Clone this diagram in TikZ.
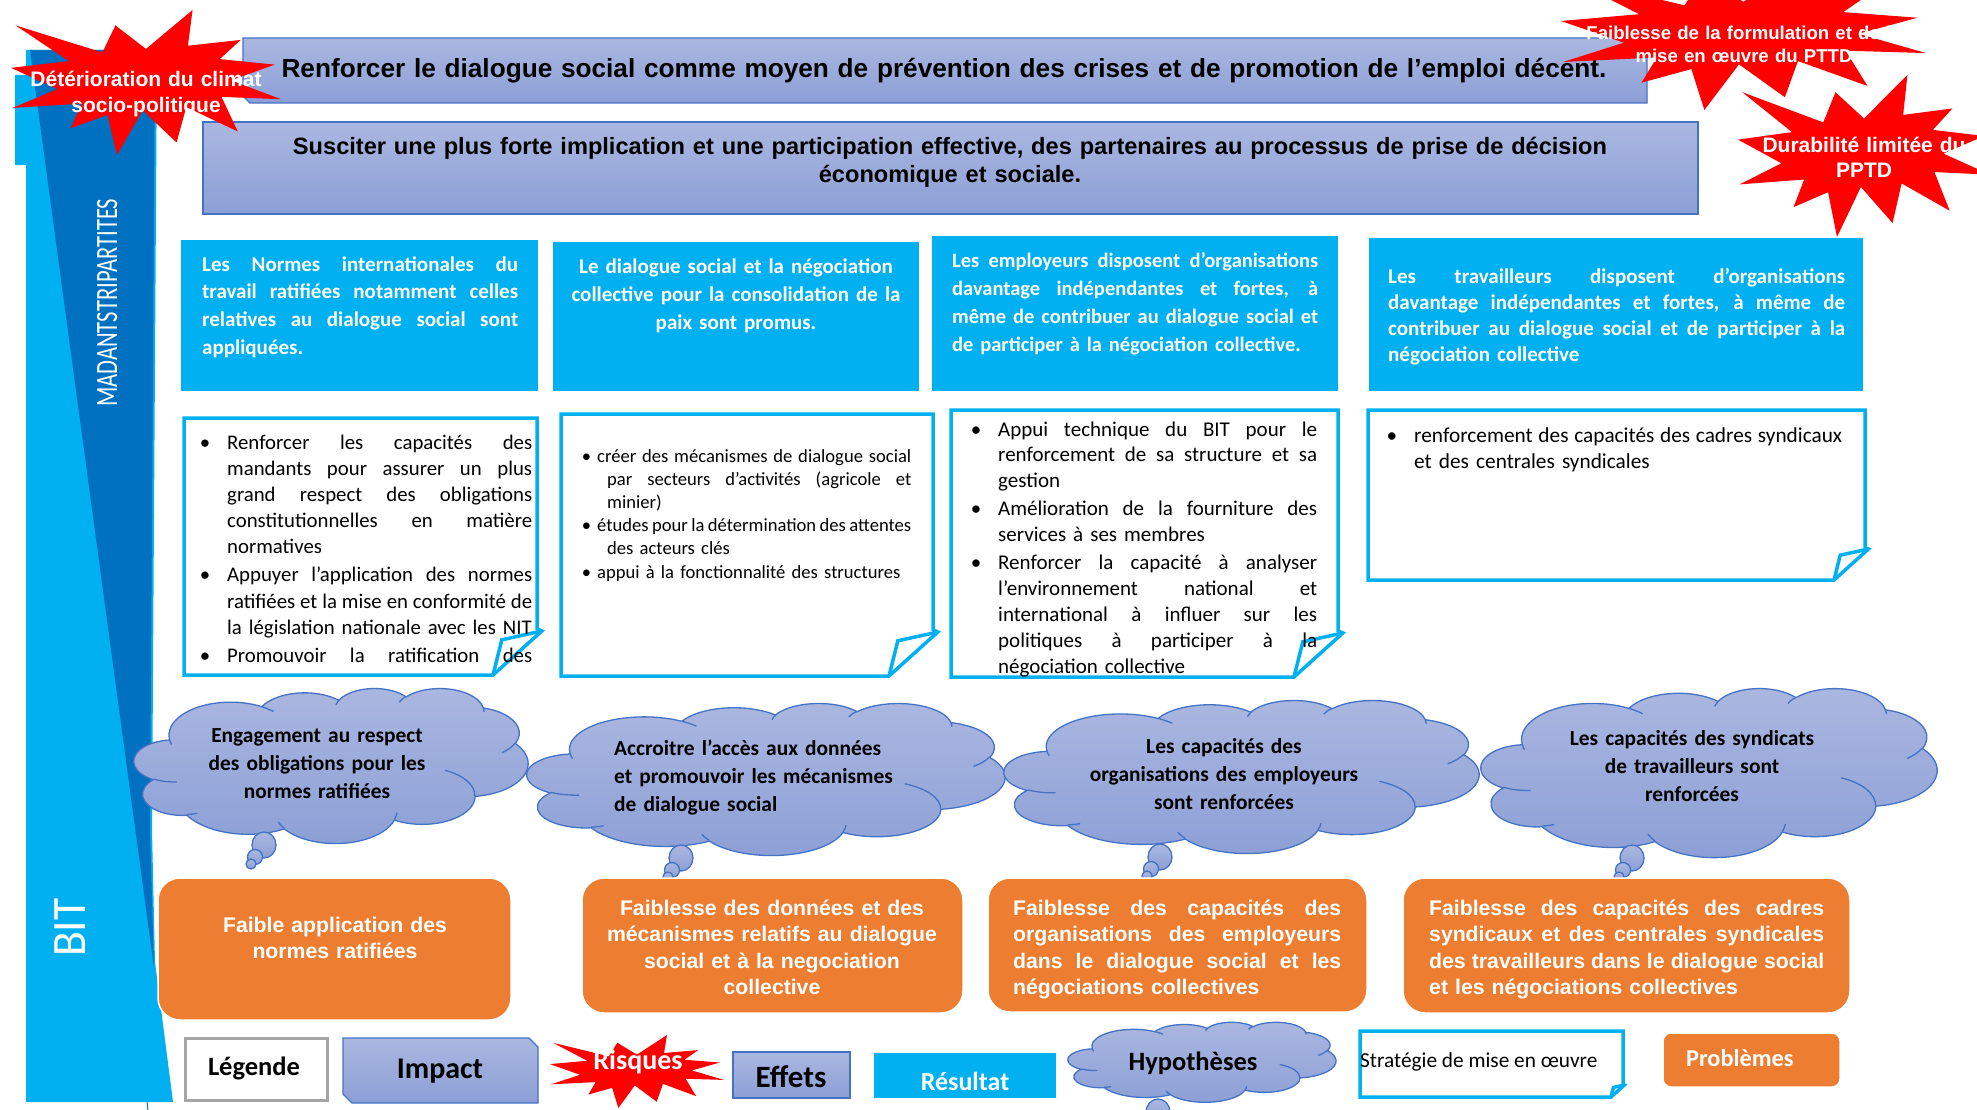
\documentclass[tikz,border=0pt]{standalone}
\usepackage{fontspec}
\setmainfont{Carlito}
\newfontfamily\arialf{Liberation Sans}

\definecolor{skyb}{RGB}{0,176,240}
\definecolor{deepb}{RGB}{0,112,192}
\definecolor{lavtop}{RGB}{170,183,224}
\definecolor{lavbot}{RGB}{140,159,214}
\definecolor{edgeb}{RGB}{68,114,196}
\definecolor{orng}{RGB}{237,125,49}
\definecolor{redx}{RGB}{255,0,0}
\definecolor{greyb}{RGB}{165,165,165}

\newlength\jw
\newcommand\fs[2]{\fontsize{#1}{#2}\selectfont}
% justified line of width \jw: the interword spaces share the slack equally
\newcommand\jl[1]{\leavevmode\hbox to\jw{%
  \spaceskip=\fontdimen2\font plus 1fil minus \fontdimen4\font
  \xspaceskip=\spaceskip\relax #1}}
\newcommand\bul{\leavevmode\llap{\textbullet\hspace{17pt}}}
\newcommand\bulb{\leavevmode\hspace*{-10pt}\llap{\textbullet\hspace{6pt}}}

% elliptic arc of the cloud outline: visual angles converted to parametric ones
\newcommand\oconv[5]{%
  \pgfmathsetmacro\oaT{atan2((#2)*sin(#4),(#3)*cos(#4))}%
  \pgfmathsetmacro\oaE{atan2((#2)*sin((#4)+(#5)),(#3)*cos((#4)+(#5)))}%
  \pgfmathsetmacro\oaD{\oaE-\oaT}%
  \pgfmathsetmacro\oaD{\oaD<0 ? \oaD+360 : \oaD}%
  \pgfmathsetmacro\oaX{(#2)/432}%
  \pgfmathsetmacro\oaY{(#3)/432}%
  \expandafter\xdef\csname oT#1\endcsname{\oaT}%
  \expandafter\xdef\csname oD#1\endcsname{\oaD}%
  \expandafter\xdef\csname oX#1\endcsname{\oaX}%
  \expandafter\xdef\csname oY#1\endcsname{\oaY}}
\oconv{a}{6753}{9190}{-190.4875}{123.7805}
\oconv{b}{5333}{7267}{-144.1024}{89.9452}
\oconv{c}{4365}{5945}{-145.8079}{99.7230}
\oconv{d}{4857}{6595}{-130.9861}{117.2417}
\oconv{e}{5333}{7273}{-78.7089}{109.0269}
\oconv{f}{6775}{9220}{-46.2673}{130.2690}
\oconv{g}{5785}{7867}{0.6250}{114.0333}
\oconv{h}{6752}{9215}{22.4516}{115.1726}
\oconv{i}{7720}{10543}{66.2426}{75.7110}
\oconv{j}{4360}{5918}{-274.9421}{146.7356}
\oconv{k}{4345}{5945}{-246.8285}{152.5189}
\oconv{ca}{4345}{5945}{86.7420}{26.4295}
\oconv{cb}{4360}{5918}{73.6105}{11.4475}
\oconv{cc}{6752}{9215}{137.6242}{14.0811}
\oconv{cd}{6752}{9215}{6.4533}{15.9984}
\oconv{ce}{5785}{7867}{-70.2924}{70.9174}
\oconv{cf}{5333}{7273}{30.3180}{27.7515}
\oconv{cg}{4857}{6595}{-13.7443}{14.8589}
\oconv{ch}{4857}{6595}{-149.1815}{18.1954}
\oconv{ci}{4365}{5945}{-163.4943}{17.6864}
\oconv{cj}{6753}{9190}{-66.7070}{12.3194}
\oconv{ck}{6753}{9190}{157.6544}{11.8582}

\newcommand\cloudline{(9.0278,33.2639)
  arc[start angle=\oTa,delta angle=\oDa,x radius=\oXa,y radius=\oYa]
  arc[start angle=\oTb,delta angle=\oDb,x radius=\oXb,y radius=\oYb]
  arc[start angle=\oTc,delta angle=\oDc,x radius=\oXc,y radius=\oYc]
  arc[start angle=\oTd,delta angle=\oDd,x radius=\oXd,y radius=\oYd]
  arc[start angle=\oTe,delta angle=\oDe,x radius=\oXe,y radius=\oYe]
  arc[start angle=\oTf,delta angle=\oDf,x radius=\oXf,y radius=\oYf]
  arc[start angle=\oTg,delta angle=\oDg,x radius=\oXg,y radius=\oYg]
  arc[start angle=\oTh,delta angle=\oDh,x radius=\oXh,y radius=\oYh]
  arc[start angle=\oTi,delta angle=\oDi,x radius=\oXi,y radius=\oYi]
  arc[start angle=\oTj,delta angle=\oDj,x radius=\oXj,y radius=\oYj]
  arc[start angle=\oTk,delta angle=\oDk,x radius=\oXk,y radius=\oYk]
  -- cycle}
\newcommand\cloudcreases{
  (10.8634,60.5949) arc[start angle=\oTca,delta angle=\oDca,x radius=\oXca,y radius=\oYca]
  (16.0370,80.7847) arc[start angle=\oTcb,delta angle=\oDcb,x radius=\oXcb,y radius=\oYcb]
  (38.1435,90.4861) arc[start angle=\oTcc,delta angle=\oDcc,x radius=\oXcc,y radius=\oYcc]
  (66.7292,80.4421) arc[start angle=\oTcd,delta angle=\oDcd,x radius=\oXcd,y radius=\oYcd]
  (79.0023,53.1343) arc[start angle=\oTce,delta angle=\oDce,x radius=\oXce,y radius=\oYce]
  (96.7546,35.5417) arc[start angle=\oTcf,delta angle=\oDcf,x radius=\oXcf,y radius=\oYcf]
  (88.7130,12.5602) arc[start angle=\oTcg,delta angle=\oDcg,x radius=\oXcg,y radius=\oYcg]
  (67.3102,9.1481) arc[start angle=\oTch,delta angle=\oDch,x radius=\oXch,y radius=\oYch]
  (51.2523,10.9259) arc[start angle=\oTci,delta angle=\oDci,x radius=\oXci,y radius=\oYci]
  (32.4074,12.0185) arc[start angle=\oTcj,delta angle=\oDcj,x radius=\oXcj,y radius=\oYcj]
  (9.5532,36.5486) arc[start angle=\oTck,delta angle=\oDck,x radius=\oXck,y radius=\oYck]}

% cloud body in the box x, y, width, height
\newcommand\thoughtcloud[4]{%
  \begin{scope}[shift={(#1,#2)},xscale=#3/100,yscale=#4/100]
    \path[lav] \cloudline;
    \draw[crease] \cloudcreases;
  \end{scope}}
% thought bubbles below a cloud
\newcommand\bubbles[2]{%
  \path[lav] (#1,#2) ellipse[x radius=12,y radius=13];
  \path[lav] (#1-9,#2+12) ellipse[x radius=7.5,y radius=7.5];
  \path[lav] (#1-13,#2+19) ellipse[x radius=5,y radius=5];}
% red explosion in the box x, y, width, height
\newcommand\boom[4]{%
  \begin{scope}[shift={(#1,#2)},xscale=#3/100,yscale=#4/100]
    \fill[redx] (50,26.85) -- (67.23,0) -- (65.53,24.65) -- (85.09,20.63) -- (77.32,33.87)
      -- (97.67,37.67) -- (81.51,48.50) -- (100,61.53) -- (77.95,59.92) -- (84.00,83.77)
      -- (64.91,66.93) -- (61.33,91.38) -- (48.76,69.14) -- (39.28,100) -- (35.72,72.35)
      -- (22.05,81.56) -- (26.24,64.52) -- (0.63,67.53) -- (17.23,54.51) -- (0,39.88)
      -- (21.42,35.26) -- (1.71,10.63) -- (33.85,29.26) -- (38.67,10.63) -- cycle;
  \end{scope}}
% note sheet with a folded lower right corner
\newcommand\foldnote[5]{%
  \path[notebox] (#1,#2) -- (#3,#2) -- (#3,#4-1.05*#5) -- (#3+0.11*#5,#4-#5)
    -- (#3-#5,#4) -- (#1,#4) -- cycle;
  \draw[notebox,fill=none] (#3+0.11*#5,#4-#5) -- (#3-0.8*#5,#4-0.8*#5) -- (#3-#5,#4);}

\begin{document}
\begin{tikzpicture}[x=1pt,y=-1pt,
  lav/.style={top color=lavtop,bottom color=lavbot,draw=edgeb,line width=1.3pt},
  crease/.style={draw=edgeb,line width=1.3pt},
  notebox/.style={fill=white,draw=skyb,line width=3.5pt,line join=miter},
  probbox/.style={fill=orng,draw=white,line width=1.5pt,rounded corners=22pt},
  tl/.style={inner sep=0pt,anchor=base west,align=left},
  tc/.style={inner sep=0pt,anchor=base,align=center},
  wt/.style={text=white}]

\useasboundingbox (0,0) rectangle (1977,1110);
\fill[white] (0,0) rectangle (1977,1110);
\clip (0,0) rectangle (1977,1110);

% side band
\fill[skyb] (15,75) rectangle (26,165);
\fill[skyb] (26,50) -- (157,50) -- (152,830) -- (155,962) -- (173,1102) -- (26,1102) -- cycle;
\fill[deepb] (30,50) -- (155,50) -- (150,830) -- (154,968) -- cycle;
\draw[deepb,line width=1pt] (147,1102) -- (148,1110);
\node[rotate=90,anchor=base west,inner sep=0pt,wt,font=\fs{31}{31}] (mandants) at (117,407)
  {\scalebox{0.73}[1]{MADANTSTRIPARTITES}};
\node[rotate=90,anchor=base west,inner sep=0pt,wt,font=\fs{48}{48}] (bit) at (85,957)
  {\scalebox{0.95}[1]{BIT}};

% impact and effect
\path[lav] (243,38) -- (1640,38) -- (1647,45) -- (1647,103) -- (250,103) -- (243,96) -- cycle;
\node[tc,text width=1500pt,font=\arialf\bfseries\fs{26.2}{28}] (impact) at (944,78)
  {Renforcer le dialogue social comme moyen de prévention des crises et de promotion de l’emploi décent.};
\path[lav] (203,122) rectangle (1698,214);
\node[tc,text width=1480pt,font=\arialf\bfseries\fs{23.6}{28}] (effet) at (950,155)
  {Susciter une plus forte implication et une participation effective, des partenaires au processus de prise de décision\\économique et sociale.};

% results
\fill[skyb] (181,240) rectangle (538,391);
\fill[skyb] (553,242) rectangle (919,391);
\fill[skyb] (932,236) rectangle (1338,391);
\fill[skyb] (1369,238) rectangle (1863,391);
\node[tl,wt,text width=316pt,font=\bfseries\fs{21}{27.7}] (res1) at (202,271)
  {\jw=316pt\jl{Les Normes internationales du}\\\jl{travail ratifiées notamment celles}\\\jl{relatives au dialogue social sont}\\appliquées.};
\node[tc,wt,text width=360pt,font=\bfseries\fs{21}{28}] (res2) at (736,273)
  {Le dialogue social et la négociation\\collective pour la consolidation de la\\paix sont promus.};
\node[tl,wt,text width=366pt,font=\bfseries\fs{20.5}{28.3}] (res3) at (952,267)
  {\jw=366pt\jl{Les employeurs disposent d’organisations}\\\jl{davantage indépendantes et fortes, à}\\\jl{même de contribuer au dialogue social et}\\de participer à la négociation collective.};
\node[tl,wt,text width=457pt,font=\bfseries\fs{21}{26.3}] (res4) at (1388,283)
  {\jw=457pt\jl{Les travailleurs disposent d’organisations}\\\jl{davantage indépendantes et fortes, à même de}\\\jl{contribuer au dialogue social et de participer à la}\\négociation collective};

% strategies
\foldnote{184}{418}{537}{675}{44}
\foldnote{561}{414}{933}{676}{44}
\foldnote{951}{410}{1338}{677}{44}
\foldnote{1368}{410}{1865}{580}{31}
\node[tl,text width=305pt,font=\fs{20.8}{26.2}] (str1) at (227,449)
  {\jw=305pt\bul\jl{Renforcer les capacités des}\\
   \jl{mandants pour assurer un plus}\\
   \jl{grand respect des obligations}\\
   \jl{constitutionnelles en matière}\\
   normatives\\[1.8pt]
   \bul\jl{Appuyer l’application des normes}\\
   \jl{ratifiées et la mise en conformité de}\\
   la législation nationale avec les NIT\\[1.8pt]
   \bul\jl{Promouvoir la ratification des}};
\node[tl,text width=304pt,font=\fs{18.6}{23.2}] (str2) at (607,462)
  {\jw=314pt\bulb\jl{créer des mécanismes de dialogue social}\\
   \jw=304pt\jl{par secteurs d’activités (agricole et}\\
   minier)\\
   \jw=314pt\bulb\jl{études pour la détermination des attentes}\\
   des acteurs clés\\
   \bulb appui à la fonctionnalité des structures};
\node[tl,text width=319pt,font=\fs{21}{25.9}] (str3) at (998,436)
  {\jw=319pt\bul\jl{Appui technique du BIT pour le}\\
   \jl{renforcement de sa structure et sa}\\
   gestion\\[2pt]
   \bul\jl{Amélioration de la fourniture des}\\
   services à ses membres\\[2pt]
   \bul\jl{Renforcer la capacité à analyser}\\
   \jl{l’environnement national et}\\
   \jl{international à influer sur les}\\
   \jl{politiques à participer à la}\\
   négociation collective};
\node[tl,text width=428pt,font=\fs{21.3}{26}] (str4) at (1414,442)
  {\jw=428pt\bul\jl{renforcement des capacités des cadres syndicaux}\\
   et des centrales syndicales};

% assumptions
\thoughtcloud{134}{688}{394}{155}
\bubbles{264}{845}
\thoughtcloud{527}{703}{478}{152}
\bubbles{681}{858}
\thoughtcloud{1004}{700}{475}{153}
\bubbles{1160}{857}
\thoughtcloud{1481}{688}{456}{169}
\bubbles{1632}{858}
\node[tc,text width=300pt,font=\bfseries\fs{21.4}{28}] (hyp1) at (317,742)
  {Engagement au respect\\des obligations pour les\\normes ratifiées};
\node[tl,text width=330pt,font=\bfseries\fs{21.4}{28}] (hyp2) at (614,755)
  {Accroitre l’accès aux données\\et promouvoir les mécanismes\\de dialogue social};
\node[tc,text width=330pt,font=\bfseries\fs{21.4}{28}] (hyp3) at (1224,753)
  {Les capacités des\\organisations des employeurs\\sont renforcées};
\node[tc,text width=330pt,font=\bfseries\fs{21.4}{28}] (hyp4) at (1692,745)
  {Les capacités des syndicats\\de travailleurs sont\\renforcées};

% problems
\path[probbox] (158,878) rectangle (511,1020);
\path[probbox] (582,878) rectangle (963,1013);
\path[probbox] (988,878) rectangle (1367,1012);
\path[probbox] (1403,878) rectangle (1850,1013);
\node[tc,wt,text width=340pt,font=\arialf\bfseries\fs{21.2}{26.5}] (pb1) at (335,932)
  {Faible application des\\normes ratifiées};
\node[tc,wt,text width=370pt,font=\arialf\bfseries\fs{21.2}{26.5}] (pb2) at (772,915)
  {Faiblesse des données et des\\mécanismes relatifs au dialogue\\social et à la negociation\\collective};
\node[tl,wt,text width=328pt,font=\arialf\bfseries\fs{21.2}{26.5}] (pb3) at (1013,915)
  {\jw=328pt\jl{Faiblesse des capacités des}\\\jl{organisations des employeurs}\\\jl{dans le dialogue social et les}\\négociations collectives};
\node[tl,wt,text width=395pt,font=\arialf\bfseries\fs{21.2}{26.5}] (pb4) at (1429,915)
  {\jw=395pt\jl{Faiblesse des capacités des cadres}\\\jl{syndicaux et des centrales syndicales}\\\jl{des travailleurs dans le dialogue social}\\et les négociations collectives};

% risks
\boom{11}{10}{270}{145}
\node[tc,wt,text width=300pt,font=\arialf\bfseries\fs{21}{26}] (risk1) at (146,87)
  {Détérioration du climat\\socio-politique};
\boom{1561}{-38}{365}{148}
\node[tc,wt,text width=400pt,font=\arialf\bfseries\fs{18.6}{23}] (risk2) at (1744,40)
  {Faiblesse de la formulation et de la\\mise en œuvre du PTTD};
\boom{1738}{75}{252}{162}
\node[tc,wt,text width=300pt,font=\arialf\bfseries\fs{21}{25}] (risk3) at (1864,153)
  {Durabilité limitée du\\PPTD};

% legend
\path[draw=greyb,line width=3pt,fill=white] (185,1038) rectangle (327,1100);
\node[tc,font=\bfseries\fs{26.5}{30}] (lgd) at (254,1075) {Légende};
\path[lav] (343,1038) -- (529,1038) -- (538,1047) -- (538,1103) -- (352,1103) -- (343,1094) -- cycle;
\node[tc,font=\bfseries\fs{30}{32}] (lgimpact) at (440,1078) {Impact};
\boom{550}{1035}{174}{73}
\node[tc,wt,font=\bfseries\fs{28}{30}] (lgrisk) at (638,1069) {Risques};
\path[lav] (733,1052) rectangle (850,1098);
\node[tc,font=\bfseries\fs{31}{32}] (lgeffet) at (791,1087) {Effets};
\fill[skyb] (874,1053) rectangle (1056,1098);
\node[tc,wt,font=\bfseries\fs{26}{28}] (lgres) at (965,1090) {Résultat};
\thoughtcloud{1068}{1022}{268}{80}
\bubbles{1158}{1112}
\node[tc,font=\bfseries\fs{26.5}{28}] (lghyp) at (1193,1070) {Hypothèses};
\foldnote{1360}{1031}{1623}{1097}{12}
\node[tl,font=\fs{21.3}{24}] (lgstr) at (1360,1067) {Stratégie de mise en œuvre};
\path[probbox,rounded corners=8pt] (1663,1033) rectangle (1840,1087);
\node[tl,wt,font=\bfseries\fs{24.3}{26}] (lgpb) at (1686,1066) {Problèmes};
\end{tikzpicture}
\end{document}
